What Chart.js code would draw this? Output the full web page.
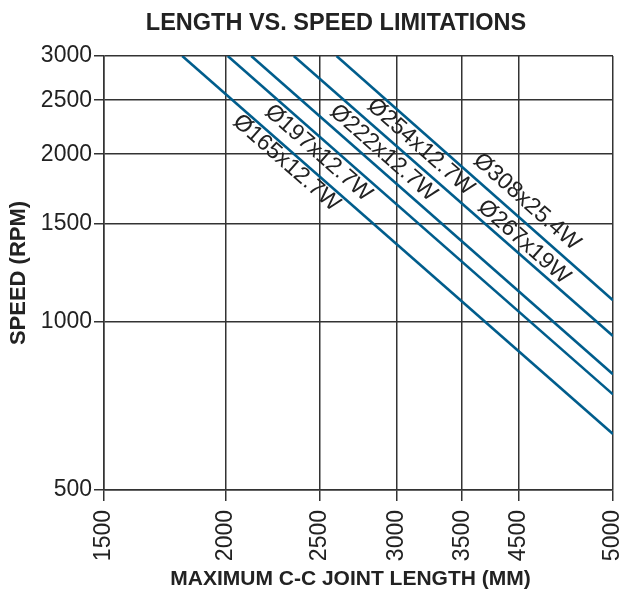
<!DOCTYPE html>
<html>
<head>
<meta charset="utf-8">
<script src="https://cdn.jsdelivr.net/npm/chart.js@4"></script>
<style>
  html, body { margin: 0; padding: 0; background: #fff; }
</style>
</head>
<body>
<canvas id="chart" width="625" height="601"></canvas>
<script>
'use strict';

// tick values / labels (the "4500" label really sits at the 4000 position in the source)
const xTickValues = [1500, 2000, 2500, 3000, 3500, 4000, 5000];
const xTickLabels = ['1500', '2000', '2500', '3000', '3500', '4500', '5000'];
const yTickValues = [500, 1000, 1500, 2000, 2500, 3000];
const yTickLabels = ['500', '1000', '1500', '2000', '2500', '3000'];

// each limit line runs from (length at 3000 rpm) down to (speed at 5000 mm)
const topSpeed = 3000;
const endLength = 5000;
const lineStartLength = [1805, 2010, 2125, 2350, 2600];
const lineEndSpeed = [630, 742, 806, 944, 1094];

// size labels, anchored in data units
const labelText = ['Ø165x12.7W', 'Ø197x12.7W', 'Ø222x12.7W', 'Ø254x12.7W', 'Ø308x25.4W', 'Ø267x19W'];
const labelLine = [0, 1, 2, 3, 4, 4];
const labelX = [2309, 2491, 2905, 3172, 4078, 4049];
const labelY = [1929, 2010, 2010, 2060, 1642, 1392];

const FONT = '"Liberation Sans", Arial, sans-serif';
const INK = '#222';
const GRID = '#333';
const X_TITLE = 'MAXIMUM C-C JOINT LENGTH (MM)';

// writes the diameter labels along the lines, plus the x axis title
const lineLabels = {
  id: 'lineLabels',
  afterLayout(chart) {
    // the source title is centred a bit right of the canvas centre
    chart.titleBlock.left = 59;
  },
  afterDatasetsDraw(chart) {
    const { ctx, scales: { x, y } } = chart;
    ctx.save();
    ctx.font = '23px ' + FONT;
    ctx.fillStyle = INK;
    ctx.textAlign = 'center';
    ctx.textBaseline = 'middle';
    for (let i = 0; i < labelText.length; i++) {
      const k = labelLine[i];
      const ax = x.getPixelForValue(lineStartLength[k]);
      const ay = y.getPixelForValue(topSpeed);
      const bx = x.getPixelForValue(endLength);
      const by = y.getPixelForValue(lineEndSpeed[k]);
      ctx.save();
      ctx.translate(x.getPixelForValue(labelX[i]), y.getPixelForValue(labelY[i]));
      ctx.rotate(Math.atan2(by - ay, bx - ax));
      ctx.fillText(labelText[i], 0, 0);
      ctx.restore();
    }
    ctx.restore();
  },
  afterDraw(chart) {
    const { ctx, chartArea } = chart;
    ctx.save();
    ctx.font = 'bold 21px ' + FONT;
    ctx.fillStyle = INK;
    ctx.textAlign = 'center';
    ctx.textBaseline = 'middle';
    ctx.fillText(X_TITLE, (chartArea.left + chartArea.right) / 2 - 8, chart.height - 22);
    ctx.restore();
  }
};

const datasets = lineStartLength.map((x0, i) => ({
  label: labelText[i],
  data: [{ x: x0, y: topSpeed }, { x: endLength, y: lineEndSpeed[i] }],
  borderColor: '#005d8c',
  borderWidth: 2.6,
  pointRadius: 0,
  fill: false
}));

const ctx = document.getElementById('chart').getContext('2d');
new Chart(ctx, {
  type: 'line',
  data: { datasets },
  plugins: [lineLabels],
  options: {
    responsive: false,
    animation: false,
    devicePixelRatio: 1,
    layout: { padding: { left: 0, right: 12, top: 0, bottom: 0 } },
    plugins: {
      legend: { display: false },
      tooltip: { enabled: false },
      title: {
        display: true,
        text: 'LENGTH VS. SPEED LIMITATIONS',
        color: INK,
        font: { family: FONT, size: 23.5, weight: 'bold' },
        padding: { top: 9, bottom: 18.8 }
      }
    },
    scales: {
      x: {
        type: 'logarithmic',
        min: 1500,
        max: 5000,
        afterBuildTicks: s => { s.ticks = xTickValues.map(v => ({ value: v })); },
        afterFit: s => { s.height = 111; s.paddingLeft = 0; s.paddingRight = 0; },
        ticks: {
          autoSkip: false,
          minRotation: 90,
          maxRotation: 90,
          padding: 9,
          color: INK,
          font: { family: FONT, size: 23 },
          callback: (v, i) => xTickLabels[i]
        },
        grid: { color: GRID, lineWidth: 1.5, tickLength: 11, tickColor: GRID },
        border: { color: GRID, width: 1.5 }
      },
      y: {
        type: 'logarithmic',
        min: 500,
        max: 3000,
        afterBuildTicks: s => { s.ticks = yTickValues.map(v => ({ value: v })); },
        afterFit: s => { s.width = 104; },
        ticks: {
          autoSkip: false,
          padding: 2,
          color: INK,
          font: { family: FONT, size: 23 },
          callback: (v, i) => yTickLabels[i]
        },
        grid: { color: GRID, lineWidth: 1.5, tickLength: 10, tickColor: GRID },
        border: { color: GRID, width: 1.5 },
        title: {
          display: true,
          text: 'SPEED (RPM)',
          color: INK,
          font: { family: FONT, size: 22, weight: 'bold' },
          padding: { top: 6, bottom: 0 }
        }
      }
    }
  }
});
</script>
</body>
</html>
